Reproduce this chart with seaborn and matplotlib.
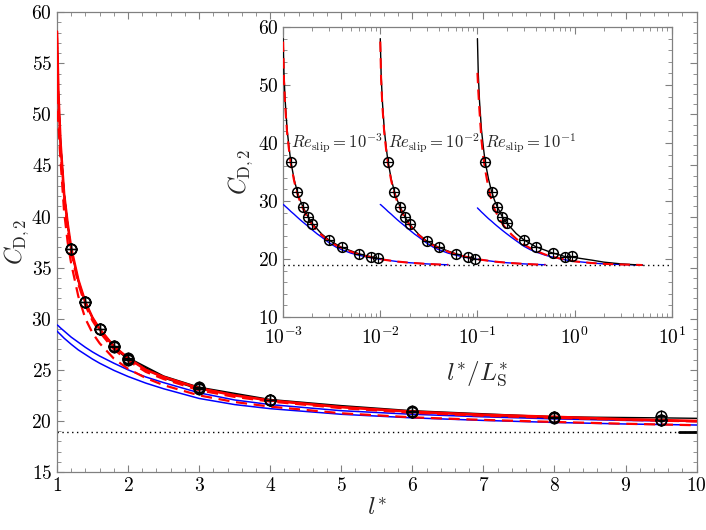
import numpy as np
import pandas as pd
import matplotlib
matplotlib.use('Agg')
import matplotlib.pyplot as plt
import seaborn as sns
from matplotlib.ticker import MultipleLocator, LogLocator, NullFormatter

# valeurs
l_grid = [1.0, 1.02, 1.05, 1.1, 1.15, 1.2, 1.3, 1.4, 1.5, 1.6, 1.8, 2.0, 2.25, 2.5,
          3.0, 3.5, 4.0, 5.0, 6.0, 7.0, 8.0, 9.0, 10.0, 15.0, 20.0, 30.0, 40.0, 50.0]

red_solid = [58.1, 52.0, 47.2, 42.2, 39.3, 36.9, 33.8, 31.6, 30.1, 29.0, 27.3, 26.15, 25.0, 24.3,
             23.2, 22.5, 22.0, 21.35, 20.9, 20.6, 20.4, 20.15, 20.0, 19.6, 19.4, 19.2, 19.1, 19.05]
red_dash_a = [57.5, 51.0, 46.5, 41.7, 38.8, 36.5, 33.4, 31.3, 29.8, 28.7, 27.0, 25.9, 24.8, 24.1,
              23.0, 22.35, 21.9, 21.25, 20.8, 20.5, 20.3, 20.1, 19.95, 19.55, 19.35, 19.15, 19.05, 19.0]
red_dash_b = [52.1, 49.0, 45.5, 40.5, 37.5, 35.4, 32.2, 30.0, 28.6, 27.6, 26.1, 25.1, 24.2, 23.5,
              22.5, 21.85, 21.4, 20.75, 20.35, 20.1, 19.9, 19.72, 19.58, 19.3, 19.15, 19.05, 19.0, 18.95]
blue_a = [29.4, 29.3, 29.1, 28.8, 28.5, 28.2, 27.7, 27.2, 26.75, 26.35, 25.65, 25.0, 24.3, 23.75,
          22.75, 22.05, 21.6, 21.0, 20.65, 20.4, 20.2, 20.05, 19.95, 19.55, 19.35, 19.15, 19.05, 19.0]
blue_b = [28.8, 28.65, 28.45, 28.1, 27.8, 27.5, 26.95, 26.5, 26.05, 25.65, 24.95, 24.35, 23.7, 23.15,
          22.2, 21.6, 21.2, 20.65, 20.3, 20.05, 19.85, 19.7, 19.6, 19.3, 19.15, 19.05, 19.0, 18.95]

l_num = [1.0, 1.02, 1.05, 1.1, 1.15, 1.2, 1.3, 1.4, 1.5, 1.6, 1.8, 2.0, 2.5, 3.0, 4.0, 5.0, 6.0, 7.0, 8.0, 9.5]
black_1 = [58.0, 52.0, 47.3, 42.3, 39.3, 36.8, 33.7, 31.6, 30.1, 29.0, 27.3, 26.1, 24.3, 23.2, 22.0, 21.4, 20.9, 20.6, 20.4, 20.1]
black_2 = [58.0, 52.0, 47.3, 42.3, 39.3, 36.8, 33.7, 31.6, 30.1, 29.0, 27.2, 26.0, 24.2, 23.1, 22.0, 21.35, 20.9, 20.55, 20.3, 20.05]
l_num_3 = l_num + [15.0, 20.0, 30.0, 40.0, 50.0]
black_3 = [58.0, 52.0, 47.3, 42.3, 39.3, 36.8, 33.8, 31.6, 30.1, 29.0, 27.3, 26.2, 24.4, 23.3, 22.1, 21.5, 21.0, 20.7, 20.4, 20.3,
           19.8, 19.45, 19.15, 19.02, 18.95]

l_sim = [1.2, 1.4, 1.6, 1.8, 2.0, 3.0, 4.0, 6.0, 8.0, 9.5]
cd_sim_1 = [36.8, 31.6, 29.0, 27.3, 26.1, 23.2, 22.0, 20.9, 20.4, 20.1]
cd_sim_2 = [36.8, 31.6, 29.0, 27.2, 26.0, 23.1, 22.0, 20.9, 20.3, 20.05]
cd_sim_3 = [36.8, 31.6, 29.0, 27.3, 26.2, 23.3, 22.0, 21.0, 20.4, 20.5]

re_slip = [1e-3, 1e-2, 1e-1]
re_labels = [r'$Re_{\mathrm{slip}} = 10^{-3}$', r'$Re_{\mathrm{slip}} = 10^{-2}$', r'$Re_{\mathrm{slip}} = 10^{-1}$']
cd_stokes = 18.9
flat_l = [9.75, 10.0]

sns.set_theme(style='ticks')
plt.rcParams['font.family'] = ['cmr10', 'DejaVu Serif']
plt.rcParams['mathtext.fontset'] = 'cm'
plt.rcParams['axes.formatter.use_mathtext'] = True
plt.rcParams['axes.unicode_minus'] = False

GREY = '#808080'
RED = '#ff0000'
BLUE = '#0000ff'

fig = plt.figure(figsize=(7.06, 5.30), dpi=100)
ax = fig.add_axes([0.0807, 0.1094, 0.906, 0.8676])
axin = fig.add_axes([0.401, 0.402, 0.5505, 0.547])

curves = pd.DataFrame({'l': l_grid, 'red': red_solid, 'red_a': red_dash_a, 'red_b': red_dash_b,
                       'blue_a': blue_a, 'blue_b': blue_b})
blacks = [(l_num, black_1), (l_num, black_2), (l_num_3, black_3)]
sims = [cd_sim_1, cd_sim_2, cd_sim_3]
dashes = [red_dash_a, red_dash_a, red_dash_b]
blues = [blue_a, blue_a, blue_b]


def plus_circle(a, x, y, ms=7.5):
    a.plot(x, y, 'o', ms=ms, mfc='none', mec='black', mew=1.1, zorder=6)
    a.plot(x, y, '+', ms=ms + 0.5, mec='black', mew=0.9, zorder=6)


# --- figure principale
ax.axhline(cd_stokes, color='black', ls=(0, (1, 2.5)), lw=1.0, zorder=1)
sns.lineplot(x=flat_l, y=[cd_stokes] * len(flat_l), ax=ax, color='black', lw=2.0, zorder=2)
sns.lineplot(data=curves, x='l', y='blue_a', ax=ax, color=BLUE, lw=1.1, zorder=3)
sns.lineplot(data=curves, x='l', y='blue_b', ax=ax, color=BLUE, lw=1.1, zorder=3)
for lx, ly in blacks:
    sns.lineplot(x=lx, y=ly, ax=ax, color='black', lw=1.0, zorder=3)
sns.lineplot(data=curves, x='l', y='red', ax=ax, color=RED, lw=1.9, zorder=4)
sns.lineplot(data=curves, x='l', y='red_a', ax=ax, color=RED, lw=1.6, zorder=4)
ax.lines[-1].set_linestyle((0, (5, 3)))
sns.lineplot(data=curves, x='l', y='red_b', ax=ax, color=RED, lw=1.6, zorder=4)
ax.lines[-1].set_linestyle((0, (5, 3)))
for cd in sims:
    plus_circle(ax, l_sim, cd)

ax.set_xlim(1, 10)
ax.set_ylim(15, 60)
ax.xaxis.set_major_locator(MultipleLocator(1))
ax.xaxis.set_minor_locator(MultipleLocator(0.2))
ax.yaxis.set_major_locator(MultipleLocator(5))
ax.yaxis.set_minor_locator(MultipleLocator(1))
ax.set_xlabel(r'$l^{*}$', fontsize=18, labelpad=2)
ax.set_ylabel(r'$C_{\mathrm{D},2}$', fontsize=17)
ax.yaxis.set_label_coords(-0.041, 0.5)

# --- encart
for k, re in enumerate(re_slip):
    lx, ly = blacks[k]
    xg = [v * re for v in l_grid]
    sns.lineplot(x=xg, y=blues[k], ax=axin, color=BLUE, lw=1.0, zorder=3)
    sns.lineplot(x=[v * re for v in lx], y=ly, ax=axin, color='black', lw=1.0, zorder=3)
    sns.lineplot(x=xg, y=dashes[k], ax=axin, color=RED, lw=1.5, zorder=4)
    axin.lines[-1].set_linestyle((0, (5, 3)))
    plus_circle(axin, [v * re for v in l_sim], sims[k], ms=7)
    axin.text(1.2 * re, 40, re_labels[k], fontsize=12, ha='left', va='center', zorder=7)

axin.axhline(cd_stokes, color='black', ls=(0, (1, 2.5)), lw=1.0, zorder=1)
axin.set_xscale('log')
axin.set_xlim(1e-3, 1e1)
axin.set_ylim(10, 60)
axin.yaxis.set_major_locator(MultipleLocator(10))
axin.yaxis.set_minor_locator(MultipleLocator(2))
axin.xaxis.set_major_locator(LogLocator(base=10, numticks=10))
axin.xaxis.set_minor_locator(LogLocator(base=10, subs=np.arange(2, 10), numticks=20))
axin.xaxis.set_minor_formatter(NullFormatter())
axin.set_xlabel(r'$l^{*}/L^{*}_{\mathrm{S}}$', fontsize=18, labelpad=8)
axin.set_ylabel(r'$C_{\mathrm{D},2}$', fontsize=17, labelpad=2)

for a in (ax, axin):
    a.tick_params(which='both', direction='in', top=True, right=True, color=GREY,
                  labelsize=14, labelcolor='black')
    a.tick_params(which='major', length=5, width=0.8)
    a.tick_params(which='minor', length=3, width=0.6)
    for s in a.spines.values():
        s.set_color(GREY)
        s.set_linewidth(0.9)
    a.set_facecolor('white')
axin.tick_params(axis='x', which='major', pad=7)

fig.savefig('out.png', dpi=100)
